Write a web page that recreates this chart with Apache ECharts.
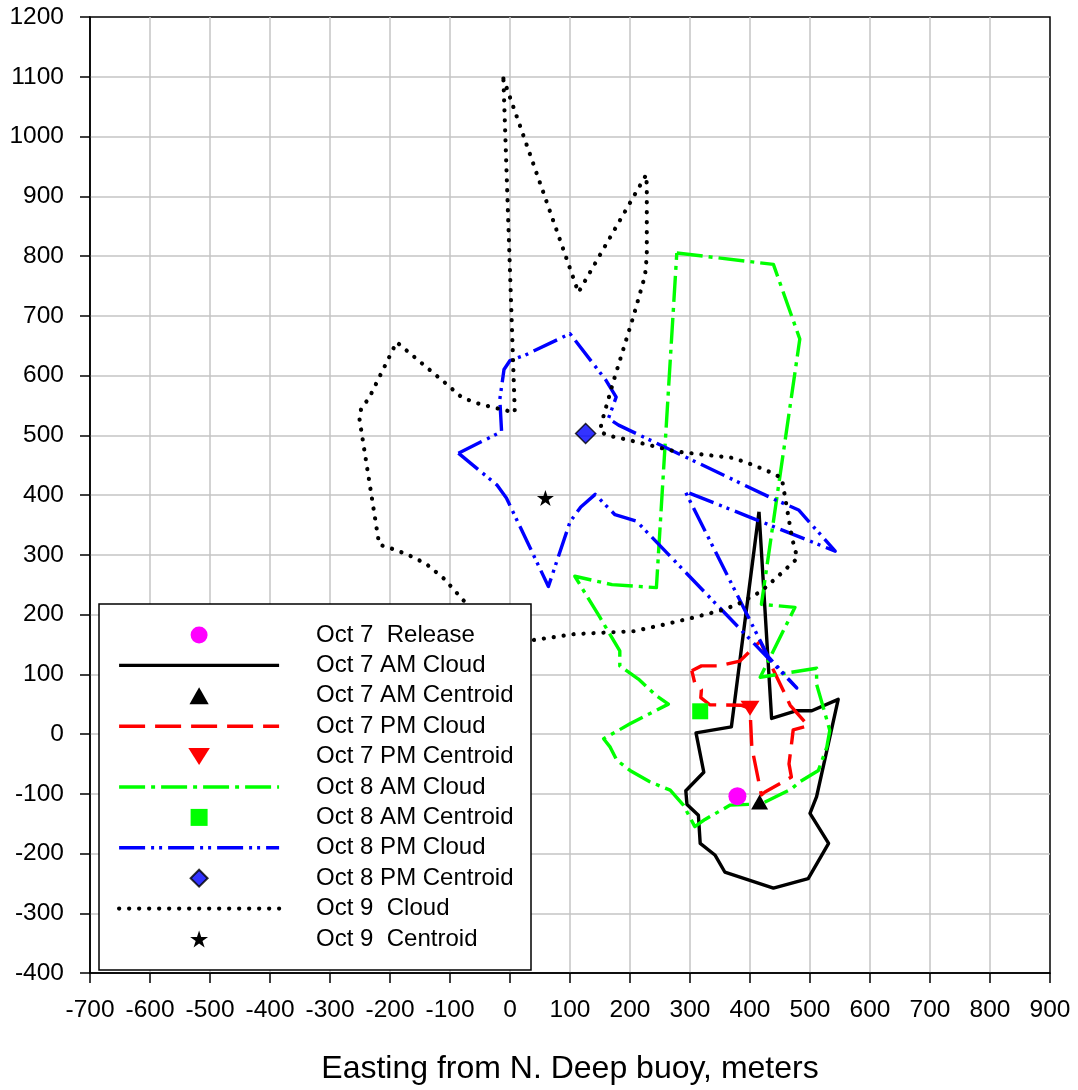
<!DOCTYPE html>
<html>
<head>
<meta charset="utf-8">
<script src="https://cdn.jsdelivr.net/npm/echarts@6/dist/echarts.min.js"></script>
<style>
  html, body { margin: 0; padding: 0; background: #ffffff; }
  #chart { width: 1078px; height: 1090px; }
</style>
</head>
<body>
<div id="chart"></div>
<script>
// Axis ranges (meters from the N. Deep buoy)
const xRange = [-700, 900];
const yRange = [-400, 1200];
const tickStep = 100;
const xTitle = 'Easting from N. Deep buoy, meters';

// Dye release point and cloud centroids: [easting, northing]
const oct7Release = [[379, -104]];
const oct7AmCentroid = [[416, -114]];
const oct7PmCentroid = [[400, 43]];
const oct8AmCentroid = [[317, 38]];
const oct8PmCentroid = [[126, 503]];
const oct9Centroid = [[59, 395]];

// Cloud outlines: [easting, northing] vertices, closed
const oct7AmCloud = [
  [415, 372], [436, 26], [478, 39], [503, 39], [547, 58], [511, -105], [500, -133],
  [531, -183], [497, -242], [439, -258], [358, -231], [342, -203], [317, -183],
  [314, -136], [295, -118], [293, -95], [323, -64], [310, 2], [369, 12], [415, 372]
];

const oct7PmCloud = [
  [303, 106], [319, 114], [347, 114], [383, 122], [417, 155], [440, 105], [453, 78],
  [467, 48], [497, 14], [472, 7], [470, -10], [465, -50], [469, -72], [425, -97],
  [419, -102], [403, -22], [400, 43], [386, 48], [333, 49], [318, 61], [319, 74],
  [308, 85], [303, 106]
];

const oct8AmCloud = [
  [278, 805], [439, 786], [483, 661], [419, 217], [475, 212], [417, 95], [511, 110],
  [511, 83], [522, 45], [533, 6], [528, -22], [514, -61], [483, -80], [469, -92],
  [419, -117], [367, -119], [325, -143], [308, -155], [289, -119], [267, -94],
  [233, -80], [200, -61], [178, -44], [167, -22], [156, -8], [200, 17], [264, 50],
  [244, 64], [214, 92], [183, 114], [183, 139], [150, 195], [108, 264], [170, 250],
  [244, 245], [278, 805]
];

const oct8PmCloud = [
  [-86, 470], [-14, 506], [-17, 560], [-10, 610], [0, 625], [25, 634], [100, 670],
  [160, 592], [177, 564], [164, 528], [181, 517], [442, 392], [481, 375], [542, 306],
  [292, 406], [430, 130], [478, 77], [211, 356], [175, 367], [142, 401], [118, 380],
  [100, 355], [64, 247], [-6, 395], [-22, 417], [-86, 470]
];

const oct9Cloud = [
  [-11, 1097], [114, 739], [227, 936], [228, 917], [228, 800], [225, 767], [206, 700],
  [172, 589], [153, 522], [150, 507], [161, 500], [194, 493], [275, 473], [372, 462],
  [406, 450], [439, 436], [453, 428], [456, 411], [470, 328], [479, 294], [450, 267],
  [419, 239], [383, 219], [356, 208], [306, 195], [256, 183], [206, 172], [106, 167],
  [44, 158], [-11, 150], [-77, 223], [-110, 260], [-140, 285], [-170, 300], [-202, 312],
  [-218, 317], [-251, 528], [-248, 545], [-235, 562], [-189, 656], [-105, 585],
  [-80, 563], [-50, 552], [8, 538], [-11, 1097]
];

const legendNames = [
  'Oct 7  Release', 'Oct 7 AM Cloud', 'Oct 7 AM Centroid', 'Oct 7 PM Cloud',
  'Oct 7 PM Centroid', 'Oct 8 AM Cloud', 'Oct 8 AM Centroid', 'Oct 8 PM Cloud',
  'Oct 8 PM Centroid', 'Oct 9  Cloud', 'Oct 9  Centroid'
];

const FONT = '"Liberation Sans", Arial, Helvetica, sans-serif';

// Marker shapes as paths so they keep their proportions everywhere
const SHAPES = {
  triUp: 'path://M8.5,0L17,15L0,15Z',
  triDown: 'path://M0,0L19,0L9.5,15Z',
  square: 'path://M0,0L16,0L16,16L0,16Z',
  diamond: 'path://M10,0L20,10L10,20L0,10Z',
  star: 'path://M50,0L61.2,34.5L97.6,34.5L68.2,55.9L79.4,90.5L50,69.1L20.6,90.5L31.8,55.9L2.4,34.5L38.8,34.5Z'
};

function cloudSeries(name, data, color, width, dash, cap) {
  return {
    name: name, type: 'line', data: data,
    symbol: 'none', showSymbol: false, clip: false, z: 2,
    lineStyle: { color: color, width: width, type: dash, cap: cap || 'butt', join: 'round' },
    itemStyle: { color: color },
    emphasis: { disabled: true }
  };
}

function markerSeries(name, data, symbol, size, color, extra) {
  return Object.assign({
    name: name, type: 'scatter', data: data,
    symbol: symbol, symbolSize: size, symbolKeepAspect: true, z: 3,
    itemStyle: { color: color, opacity: 1 },
    emphasis: { disabled: true }
  }, extra || {});
}

const series = [
  cloudSeries('Oct 7 AM Cloud', oct7AmCloud, '#000000', 3.4, 'solid'),
  cloudSeries('Oct 7 PM Cloud', oct7PmCloud, '#ff0000', 3.4, [26, 10]),
  cloudSeries('Oct 8 AM Cloud', oct8AmCloud, '#00ff00', 3.4, [26, 6, 4, 6]),
  cloudSeries('Oct 8 PM Cloud', oct8PmCloud, '#0000ff', 3.4, [26, 6, 3, 5, 3, 6]),
  cloudSeries('Oct 9  Cloud', oct9Cloud, '#000000', 4.2, [0.1, 9.9], 'round'),
  markerSeries('Oct 7  Release', oct7Release, 'circle', 18, '#ff00ff'),
  markerSeries('Oct 7 AM Centroid', oct7AmCentroid, SHAPES.triUp, 17, '#000000'),
  markerSeries('Oct 7 PM Centroid', oct7PmCentroid, SHAPES.triDown, 19, '#ff0000'),
  markerSeries('Oct 8 AM Centroid', oct8AmCentroid, SHAPES.square, 16, '#00ff00'),
  markerSeries('Oct 8 PM Centroid', oct8PmCentroid, SHAPES.diamond, 20, '#0000ff', {
    itemStyle: { color: '#0000ff', borderColor: '#000000', borderWidth: 1.5 }
  }),
  markerSeries('Oct 9  Centroid', oct9Centroid, SHAPES.star, 17, '#000000')
];

// Legend entries: outlines show only their line sample, markers only their symbol
const lineWidths = { 'Oct 7 AM Cloud': 3.4, 'Oct 7 PM Cloud': 3.4, 'Oct 8 AM Cloud': 3.4, 'Oct 8 PM Cloud': 3.4, 'Oct 9  Cloud': 4.2 };
const legendData = legendNames.map(function (name) {
  if (lineWidths[name]) {
    return { name: name, itemStyle: { opacity: 0 }, lineStyle: { width: lineWidths[name] } };
  }
  return { name: name };
});

const axisCommon = {
  type: 'value',
  interval: tickStep,
  axisLine: { show: true, onZero: false, lineStyle: { color: '#000000', width: 1.5 } },
  axisTick: { show: true, inside: false, length: 10, lineStyle: { color: '#000000', width: 1.5 } },
  splitLine: { show: true, showMinLine: false, showMaxLine: false, lineStyle: { color: '#c4c4c4', width: 1.5 } },
  axisLabel: { color: '#000000', fontFamily: FONT, fontSize: 24.5, formatter: function (v) { return String(v); } }
};

const option = {
  animation: false,
  backgroundColor: '#ffffff',
  grid: {
    left: 90, top: 17, width: 960, height: 959,
    show: true, borderColor: '#000000', borderWidth: 1.5, backgroundColor: 'transparent'
  },
  xAxis: Object.assign({}, axisCommon, {
    min: xRange[0], max: xRange[1],
    axisLabel: Object.assign({}, axisCommon.axisLabel, { margin: 25 }),
    name: xTitle, nameLocation: 'middle', nameGap: 80,
    nameTextStyle: { color: '#000000', fontFamily: FONT, fontSize: 32 }
  }),
  yAxis: Object.assign({}, axisCommon, {
    min: yRange[0], max: yRange[1],
    axisLabel: Object.assign({}, axisCommon.axisLabel, { margin: 26 })
  }),
  legend: {
    orient: 'vertical', left: 117, top: 623, padding: 0,
    itemWidth: 160, itemHeight: 17, itemGap: 6.4,
    selectedMode: false, z: 10, symbolKeepAspect: true,
    textStyle: { color: '#000000', fontFamily: FONT, fontSize: 24, lineHeight: 24, padding: [0, 0, 0, 32] },
    data: legendData
  },
  graphic: [{
    type: 'rect', z: 5, silent: true,
    shape: { x: 99, y: 604, width: 432, height: 366 },
    style: { fill: '#ffffff', stroke: '#000000', lineWidth: 1.5 }
  }],
  series: series
};

const chart = echarts.init(document.getElementById('chart'), null, { renderer: 'canvas' });
chart.setOption(option);
</script>
</body>
</html>
